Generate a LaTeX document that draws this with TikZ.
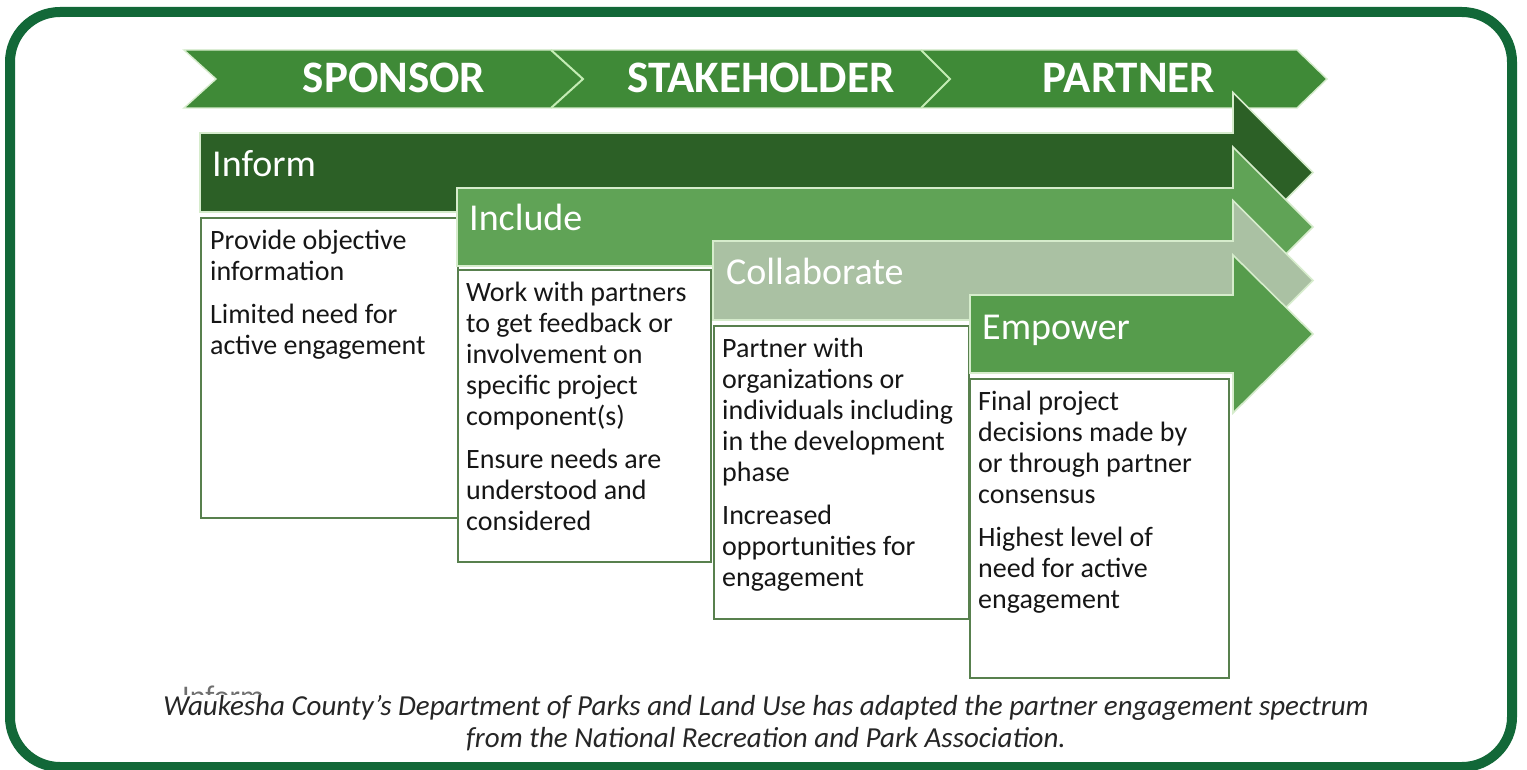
\documentclass[tikz,border=0pt]{standalone}
\usepackage{fontspec}
\setmainfont{Carlito}

\definecolor{framegreen}{RGB}{18,104,56}
\definecolor{bargreen}{RGB}{63,138,55}
\definecolor{informgreen}{RGB}{44,96,38}
\definecolor{includegreen}{RGB}{96,163,86}
\definecolor{collabgreen}{RGB}{170,193,163}
\definecolor{empowergreen}{RGB}{86,156,76}
\definecolor{edgelight}{RGB}{214,236,204}
\definecolor{sepline}{RGB}{196,236,180}
\definecolor{boxedge}{RGB}{88,128,78}
\definecolor{bodyink}{RGB}{22,22,22}
\definecolor{captionink}{RGB}{38,38,38}
\definecolor{ghostgray}{RGB}{110,110,110}

\tikzset{
  arrowshape/.style={draw=edgelight, line width=1.6pt, line join=miter},
  stagebox/.style={draw=boxedge, fill=white, line width=1.8pt, anchor=north west, inner sep=0pt},
  bodytext/.style={anchor=north west, inner sep=0pt, text=bodyink, align=left,
    font=\fontsize{28}{31}\selectfont},
  headlabel/.style={anchor=base west, inner sep=0pt, text=white,
    font=\fontsize{38}{44}\selectfont},
  phaselabel/.style={anchor=base, inner sep=0pt, text=white,
    font=\bfseries\fontsize{45}{52}\selectfont},
}

\begin{document}
\begin{tikzpicture}[x=1pt,y=-1pt]
\useasboundingbox (0,0) rectangle (1527,770);
\clip (0,0) rectangle (1527,770);
\fill[white] (0,0) rectangle (1527,770);

% outer frame
\draw[framegreen, line width=10pt, rounded corners=50pt] (10,12) rectangle (1512,767);

% phase banner
\filldraw[fill=bargreen, draw=edgelight, line width=1.4pt]
  (184,50) -- (1297,50) -- (1327,79) -- (1297,108) -- (184,108) -- (216,79) -- cycle;
\draw[sepline, line width=2pt] (551,50) -- (583,79) -- (551,108);
\draw[sepline, line width=2pt] (921,50) -- (950,79) -- (921,108);
\node[phaselabel] (sponsor) at (394,93) {SPONSOR};
\node[phaselabel] (stakeholder) at (761,93) {STAKEHOLDER};
\node[phaselabel] (partner) at (1129,93) {PARTNER};

% Inform
\filldraw[arrowshape, fill=informgreen]
  (200,133) -- (1233,133) -- (1233,92.5) -- (1313,172.5) -- (1233,252.5) -- (1233,212) -- (200,212) -- cycle;
\node[headlabel] (informlabel) at (212,177) {Inform};
\node[stagebox, minimum width=257pt, minimum height=300pt] (informbox) at (200,217) {};
\node[bodytext] (informtext) at ([xshift=10pt,yshift=-10.3pt]informbox.north west)
  {\strut Provide objective\\ information\\[12pt] Limited need for\\ active engagement};

% Include
\filldraw[arrowshape, fill=includegreen]
  (457,188) -- (1233,188) -- (1233,147) -- (1313,227) -- (1233,307) -- (1233,266) -- (457,266) -- cycle;
\node[headlabel] (includelabel) at (469,231) {Include};
\node[stagebox, minimum width=253pt, minimum height=292pt] (includebox) at (457,269) {};
\node[bodytext] (includetext) at ([xshift=9pt,yshift=-10.3pt]includebox.north west)
  {\strut Work with partners\\ to get feedback or\\ involvement on\\ specific project\\ component(s)\\[12pt]
   Ensure needs are\\ understood and\\ considered};

% Collaborate
\filldraw[arrowshape, fill=collabgreen]
  (713,241) -- (1233,241) -- (1233,200.5) -- (1313,280.5) -- (1233,360.5) -- (1233,320) -- (713,320) -- cycle;
\node[headlabel] (collablabel) at (726,285) {Collaborate};
\node[stagebox, minimum width=255pt, minimum height=293pt] (collabbox) at (713,325) {};
\node[bodytext] (collabtext) at ([xshift=9pt,yshift=-10.3pt]collabbox.north west)
  {\strut Partner with\\ organizations or\\ individuals including\\ in the development\\ phase\\[12pt]
   Increased\\ opportunities for\\ engagement};

% Empower
\filldraw[arrowshape, fill=empowergreen]
  (970,295) -- (1233,295) -- (1233,255) -- (1313,334) -- (1233,413) -- (1233,373) -- (970,373) -- cycle;
\node[headlabel] (empowerlabel) at (982,339) {Empower};
\node[stagebox, minimum width=259pt, minimum height=299pt] (empowerbox) at (969,378) {};
\node[bodytext] (empowertext) at ([xshift=9pt,yshift=-10.3pt]empowerbox.north west)
  {\strut Final project\\ decisions made by\\ or through partner\\ consensus\\[12pt]
   Highest level of\\ need for active\\ engagement};

% leftover label, cut off above the caption
\begin{scope}
  \clip (150,680) rectangle (320,694);
  \node[anchor=base west, inner sep=0pt, text=ghostgray, font=\fontsize{30}{36}\selectfont]
    (ghost) at (182,706) {Inform};
\end{scope}

% caption
\node[anchor=north, inner sep=0pt, align=center, text=captionink,
      font=\itshape\fontsize{29}{32}\selectfont] (caption) at (766,692.6)
  {\strut Waukesha County’s Department of Parks and Land Use has adapted the partner engagement spectrum\\
   from the National Recreation and Park Association.};
\end{tikzpicture}
\end{document}
